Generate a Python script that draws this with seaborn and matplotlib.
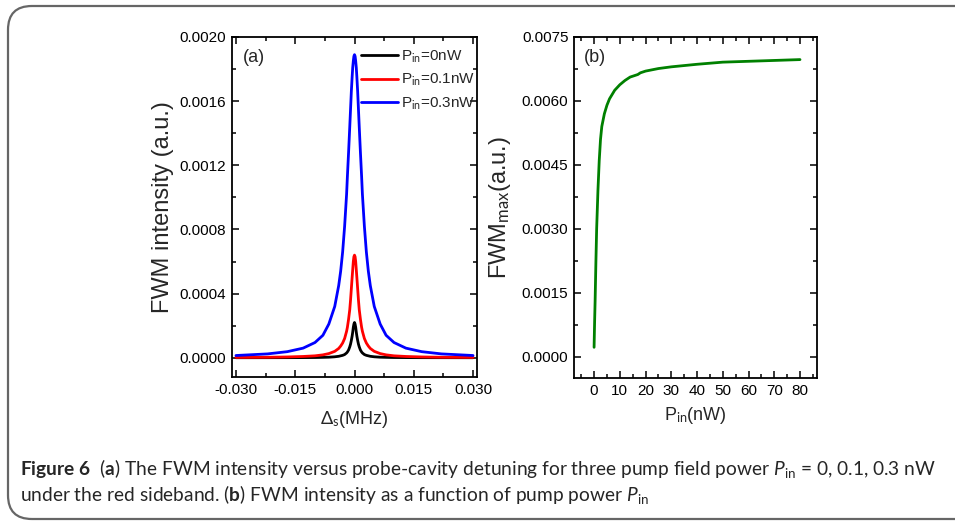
import numpy as np
import pandas as pd
import matplotlib
matplotlib.use("Agg")
import matplotlib.pyplot as plt
import seaborn as sns
from matplotlib.patches import FancyBboxPatch
from matplotlib.ticker import FormatStrFormatter, MultipleLocator

# ---- panel (a): FWM intensity vs detuning (positive half, curves are symmetric)
det_half = [0.0, 0.00015, 0.0003, 0.00045, 0.0006, 0.0008, 0.001, 0.0012,
            0.0015, 0.0018, 0.002, 0.0025, 0.003, 0.0035, 0.004, 0.005,
            0.0065, 0.008, 0.010, 0.013, 0.017, 0.022, 0.030]
fwm_0nw = [0.00022, 0.00021, 0.00019, 0.00016, 0.000135, 0.000108, 0.000085,
           0.000068, 0.000048, 0.000036, 0.00003, 0.00002, 0.000015,
           0.000012, 0.000009, 0.000006, 0.0000035, 0.0000025, 0.0000015,
           0.000001, 0.0000006, 0.0000004, 0.0000002]
fwm_01nw = [0.00064, 0.00063, 0.0006, 0.00055, 0.0005, 0.00043, 0.00036,
            0.0003, 0.00024, 0.00019, 0.000165, 0.00012, 0.000092, 0.000073,
            0.000058, 0.00004, 0.000026, 0.000018, 0.000012, 0.000008,
            0.000005, 0.000003, 0.000002]
fwm_03nw = [0.00189, 0.00188, 0.00185, 0.00181, 0.00175, 0.00166, 0.00155,
            0.00144, 0.00128, 0.00113, 0.00102, 0.00082, 0.00066, 0.00054,
            0.00045, 0.00032, 0.00021, 0.00014, 0.000095, 0.00006, 0.000038,
            0.000024, 0.000014]
series_labels = ["P$_{\\rm in}$=0nW", "P$_{\\rm in}$=0.1nW", "P$_{\\rm in}$=0.3nW"]
series_colors = ["black", "#ff0000", "#0000ff"]

# ---- panel (b): peak FWM vs pump power
p_in = [0, 0.2, 0.4, 0.7, 1.0, 1.5, 2, 2.5, 3, 4, 5, 6, 8, 10, 12, 14, 16, 17,
        18, 20, 25, 30, 40, 50, 60, 70, 80]
fwm_max = [0.00022, 0.0008, 0.0013, 0.0022, 0.003, 0.0039, 0.0046, 0.0051,
           0.0054, 0.0057, 0.0059, 0.00605, 0.00625, 0.00638, 0.00648, 0.00656,
           0.0066, 0.00662, 0.00666, 0.0067, 0.00676, 0.0068, 0.00686, 0.00691,
           0.00693, 0.00695, 0.00697]

caption1 = (r"$\mathbf{Figure\ 6}$  ($\mathbf{a}$) The FWM intensity versus probe-cavity "
            r"detuning for three pump field power $P_{\rm in}$ = 0, 0.1, 0.3 nW")
caption2 = (r"under the red sideband. ($\mathbf{b}$) FWM intensity as a function of "
            r"pump power $P_{\rm in}$")

sns.set_style("ticks")
plt.rcParams["font.family"] = ["Liberation Sans", "DejaVu Sans"]
plt.rcParams["axes.unicode_minus"] = False
plt.rcParams["mathtext.fontset"] = "custom"
plt.rcParams["mathtext.rm"] = "Lato"
plt.rcParams["mathtext.it"] = "Lato:italic"
plt.rcParams["mathtext.bf"] = "Lato:bold"

half = np.array(det_half)
detuning = np.concatenate([-half[::-1], half[1:]])
rows = []
for lab, vals in zip(series_labels, [fwm_0nw, fwm_01nw, fwm_03nw]):
    v = np.array(vals)
    full = np.concatenate([v[::-1], v[1:]])
    rows.append(pd.DataFrame({"det": detuning, "fwm": full, "P": lab}))
df_a = pd.concat(rows, ignore_index=True)
df_b = pd.DataFrame({"P": p_in, "fwm": fwm_max})

W, H = 955, 526
fig = plt.figure(figsize=(W / 100, H / 100), dpi=100)

box = FancyBboxPatch((8 / W, 1 - 519 / H), 1.1, (519 - 6) / H,
                     boxstyle="round,pad=0,rounding_size=0.025",
                     transform=fig.transFigure, fc="none", ec="#666666",
                     lw=1.6, mutation_aspect=W / H, zorder=0)
fig.patches.append(box)

ax1 = fig.add_axes([232 / W, 1 - 377 / H, 245 / W, 340 / H])
ax2 = fig.add_axes([574 / W, 1 - 378 / H, 243 / W, 341 / H])

sns.lineplot(data=df_a, x="det", y="fwm", hue="P", palette=series_colors,
             hue_order=series_labels, lw=2, ax=ax1)
sns.lineplot(data=df_b, x="P", y="fwm", color="#008000", lw=2, ax=ax2)

ax1.set_xlim(-0.031, 0.031)
ax1.set_ylim(-0.00012, 0.002)
ax1.xaxis.set_major_locator(MultipleLocator(0.015))
ax1.xaxis.set_minor_locator(MultipleLocator(0.0075))
ax1.yaxis.set_major_locator(MultipleLocator(0.0004))
ax1.yaxis.set_minor_locator(MultipleLocator(0.0002))
ax1.xaxis.set_major_formatter(FormatStrFormatter("%.3f"))
ax1.yaxis.set_major_formatter(FormatStrFormatter("%.4f"))
ax1.set_xlabel("$\\Delta_{\\rm s}$(MHz)", fontsize=13, labelpad=9)
ax1.set_ylabel("FWM intensity (a.u.)", fontsize=17, labelpad=4)
ax1.text(0.045, 0.94, "(a)", transform=ax1.transAxes, fontsize=13, va="center")

ax2.set_xlim(-7.8, 86.6)
ax2.set_ylim(-0.0005, 0.0075)
ax2.xaxis.set_major_locator(MultipleLocator(10))
ax2.xaxis.set_minor_locator(MultipleLocator(5))
ax2.yaxis.set_major_locator(MultipleLocator(0.0015))
ax2.yaxis.set_minor_locator(MultipleLocator(0.00075))
ax2.yaxis.set_major_formatter(FormatStrFormatter("%.4f"))
ax2.set_xlabel("P$_{\\rm in}$(nW)", fontsize=13, labelpad=5)
ax2.set_ylabel("FWM$_{\\rm max}$(a.u.)", fontsize=17, labelpad=6)
ax2.text(0.04, 0.94, "(b)", transform=ax2.transAxes, fontsize=13, va="center")

for ax in (ax1, ax2):
    ax.tick_params(which="both", direction="in", top=True, right=True,
                   labelsize=11, width=1.1, colors="black")
    ax.tick_params(which="major", length=5, pad=4)
    ax.tick_params(which="minor", length=3)
    for s in ax.spines.values():
        s.set_visible(True)
        s.set_linewidth(1.3)
        s.set_color("black")

handles, labels = ax1.get_legend_handles_labels()
ax1.legend(handles, labels, loc="upper left", bbox_to_anchor=(0.52, 0.97),
           frameon=False, fontsize=11, handlelength=2.4, handletextpad=0.2,
           borderpad=0.1, borderaxespad=0, labelspacing=0.45)

fig.text(20 / W, 1 - 469 / H, caption1, fontsize=13.8, family="Lato", va="center")
fig.text(20 / W, 1 - 495 / H, caption2, fontsize=13.8, family="Lato", va="center")

fig.savefig("out.png", dpi=100)
